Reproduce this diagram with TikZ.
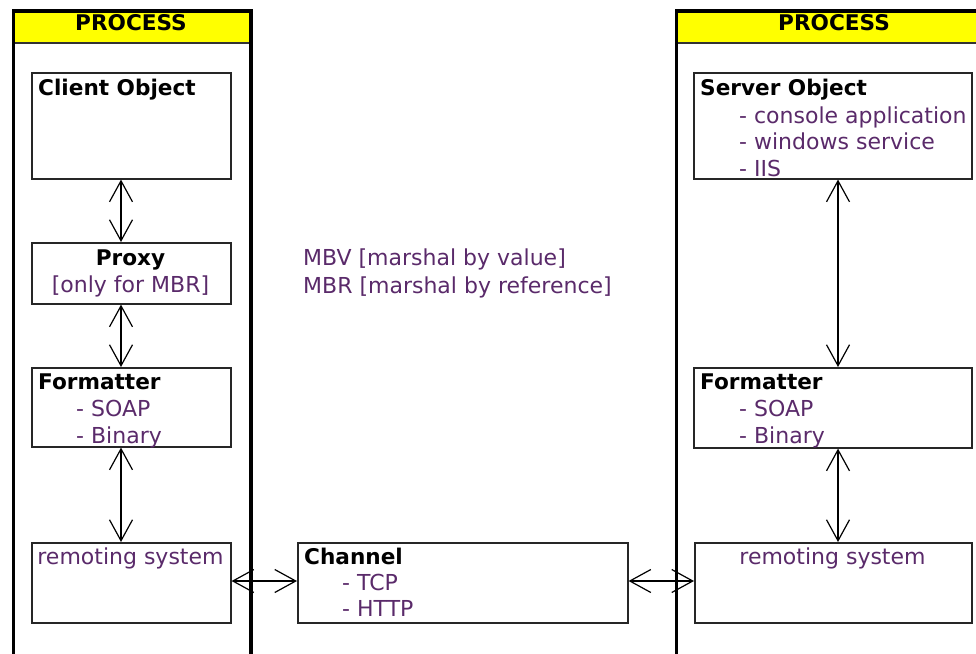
\documentclass[tikz,border=0pt]{standalone}
\usepackage{fontspec}
\setmainfont{DejaVu Sans}
\usetikzlibrary{arrows.meta}
\definecolor{bodytext}{HTML}{5A2A6A}
\definecolor{headyellow}{HTML}{FFFF00}

\begin{document}
\begin{tikzpicture}[x=1pt,y=-1pt,
  procframe/.style={draw=black,line width=3.5pt,inner sep=0pt,anchor=north west},
  headbar/.style={fill=headyellow,draw=black!80,line width=1.8pt,inner sep=0pt,anchor=north west},
  unitbox/.style={draw=black!85,line width=1.6pt,inner sep=0pt,anchor=north west},
  ttl/.style={font=\fontsize{21.6}{27}\selectfont\bfseries,text=black,inner sep=0pt,anchor=base west},
  ttlc/.style={ttl,anchor=base},
  body/.style={font=\fontsize{22}{27}\selectfont,text=bodytext,inner sep=0pt,anchor=base west},
  bodyc/.style={body,anchor=base},
  barb/.tip={Straight Barb[length=21pt,width=23pt,line width=1.2pt]},
  link/.style={line width=1.6pt,barb-barb}
]
\useasboundingbox (0,0) rectangle (976,653);
\clip (0,0) rectangle (976,653);

% ---- process frames with yellow headers ----
\node[headbar,minimum width=237.5pt,minimum height=32.7pt] (lhead) at (11.5,9) {};
\node[headbar,minimum width=321pt,minimum height=32.7pt] (rhead) at (674.5,9) {};
\node[procframe,minimum width=237.5pt,minimum height=670pt] (lproc) at (11.5,9) {};
\node[procframe,minimum width=321pt,minimum height=670pt] (rproc) at (674.5,9) {};
\node[ttlc] (lptitle) at (131,30.5) {PROCESS};
\node[ttlc] (rptitle) at (834,30.5) {PROCESS};

% ---- client side ----
\node[unitbox,minimum width=199pt,minimum height=106pt] (client) at (31,72) {};
\node[ttl] (clientt) at (38,95) {Client Object};

\node[unitbox,minimum width=199pt,minimum height=61pt] (proxy) at (31,242) {};
\node[ttlc] (proxyt) at (130.5,265) {Proxy};
\node[bodyc] (proxyb) at (130.5,292) {[only for MBR]};

\node[unitbox,minimum width=199pt,minimum height=79pt] (lfmt) at (31,367) {};
\node[ttl] (lfmtt) at (38,389) {Formatter};
\node[body] (lfmt1) at (76,416) {- SOAP};
\node[body] (lfmt2) at (76,443) {- Binary};

\node[unitbox,minimum width=199pt,minimum height=80pt] (lrem) at (31,542) {};
\node[bodyc] (lremt) at (130.5,564) {remoting system};

% ---- channel ----
\node[unitbox,minimum width=330pt,minimum height=80pt] (chan) at (297,542) {};
\node[ttl] (chant) at (304,564) {Channel};
\node[body] (chan1) at (342,590) {- TCP};
\node[body] (chan2) at (342,616) {- HTTP};

% ---- legend ----
\node[body] (mbv) at (303,265) {MBV [marshal by value]};
\node[body] (mbr) at (303,293) {MBR [marshal by reference]};

% ---- server side ----
\node[unitbox,minimum width=278pt,minimum height=106pt] (server) at (693,72) {};
\node[ttl] (servert) at (700,95) {Server Object};
\node[body] (server1) at (739,123) {- console application};
\node[body] (server2) at (739,149) {- windows service};
\node[body] (server3) at (739,176) {- IIS};

\node[unitbox,minimum width=278pt,minimum height=80pt] (rfmt) at (693,367) {};
\node[ttl] (rfmtt) at (700,389) {Formatter};
\node[body] (rfmt1) at (739,416) {- SOAP};
\node[body] (rfmt2) at (739,443) {- Binary};

\node[unitbox,minimum width=277pt,minimum height=80pt] (rrem) at (694,542) {};
\node[bodyc] (rremt) at (832.5,564) {remoting system};

% ---- connectors ----
\coordinate (lax) at (121,0);
\coordinate (rax) at (838,0);
\coordinate (hy) at (0,581);

\draw[link] (client.south -| lax) -- (proxy.north -| lax);
\draw[link] (proxy.south -| lax) -- (lfmt.north -| lax);
\draw[link] (lfmt.south -| lax) -- (lrem.north -| lax);
\draw[link] (server.south -| rax) -- (rfmt.north -| rax);
\draw[link] (rfmt.south -| rax) -- (rrem.north -| rax);
\draw[link] (lrem.east |- hy) -- (chan.west |- hy);
\draw[link] (chan.east |- hy) -- (rrem.west |- hy);
\end{tikzpicture}
\end{document}
